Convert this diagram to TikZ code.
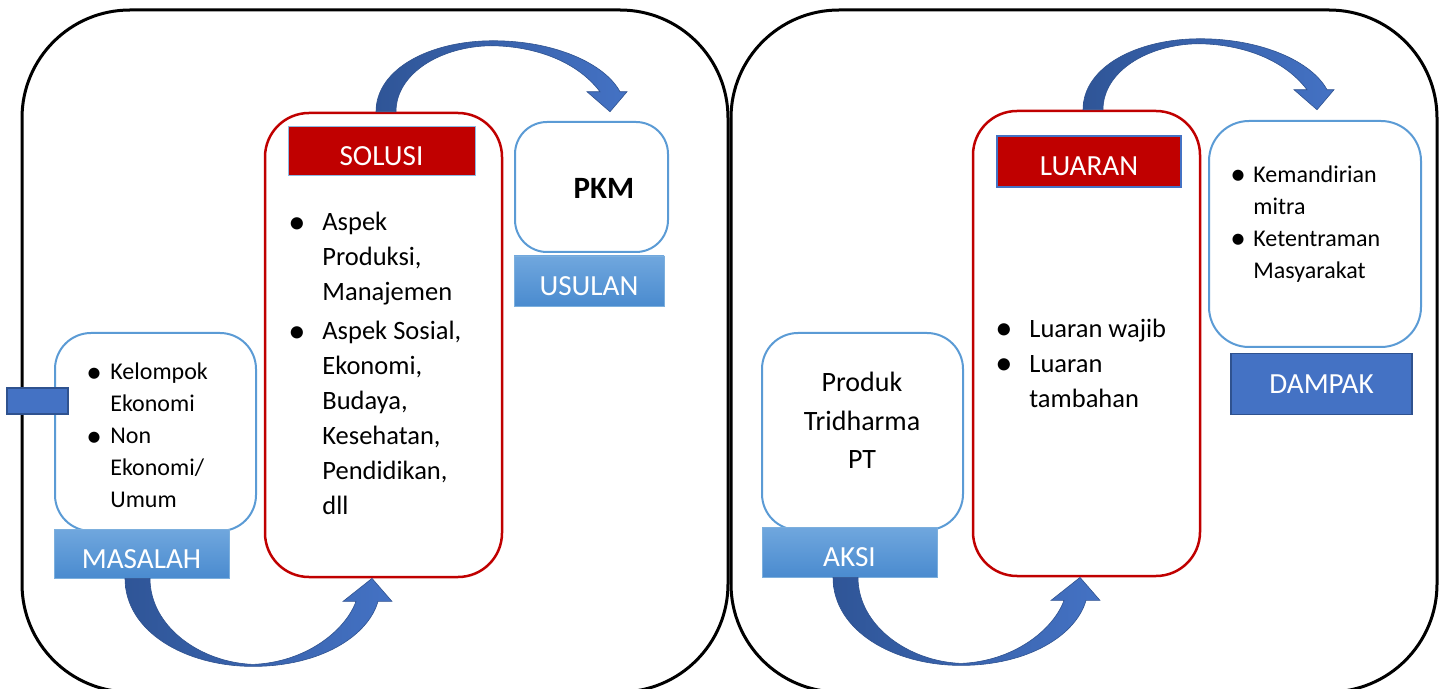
\documentclass[tikz,border=0pt]{standalone}
\usepackage{fontspec}
\setmainfont{Carlito}
\usetikzlibrary{positioning,calc}
\definecolor{redbox}{HTML}{C00000}
\definecolor{bluebox}{HTML}{5B9BD5}
\definecolor{darkblue}{HTML}{2F528F}
\definecolor{midblue}{HTML}{4472C4}
\definecolor{arrowdark}{HTML}{2F5597}
\definecolor{lbltop}{HTML}{70A7DE}
\definecolor{lblbot}{HTML}{4A8BCF}
\tikzset{
  frame/.style={draw=black, line width=1.5pt, rounded corners=54pt, minimum width=353pt, minimum height=341pt},
  redpanel/.style={draw=redbox, line width=1.25pt, rounded corners=22pt, fill=white},
  bluepanel/.style={draw=bluebox, line width=1pt, rounded corners=18pt, fill=white},
  gradlbl/.style={draw=bluebox!80, line width=0.4pt, top color=lbltop, bottom color=lblbot, text=white, inner sep=0pt, font=\fontsize{14.6}{16}\selectfont, text height=14.5pt, text depth=0pt},
  redlbl/.style={fill=redbox, draw=bluebox!70, line width=0.5pt, text=white, inner sep=0pt, font=\fontsize{14.6}{16}\selectfont, text height=14.5pt, text depth=0pt},
  bluelbl/.style={fill=midblue, draw=darkblue, line width=0.75pt, text=white, inner sep=0pt, font=\fontsize{14.6}{16}\selectfont},
  bullets/.style={align=left, anchor=west, inner sep=0pt},
  curvearrow/.style={left color=arrowdark, right color=midblue, draw=darkblue, line width=0.3pt}
}
\newcommand{\bul}[1]{\makebox[#1][l]{\raisebox{-0.1em}{\scalebox{1.3}{\textbullet}}}}
\newcommand{\ind}[1]{\makebox[#1]{}}
% curved block arrows, drawn from their start point
\newcommand{\toparrow}[1]{\path[curvearrow, shift={(#1)}] (0,0) .. controls (0,-43) and (54,-71) .. (117,-71)
  .. controls (179,-71) and (229,-48) .. (244,-20) -- (251,-20) -- (234,0) -- (211,-20) -- (224,-20)
  .. controls (199,-53) and (154,-66) .. (114,-66) .. controls (64,-65) and (20,-38) .. (20,0) -- cycle;}
\newcommand{\bottomarrow}[1]{\path[curvearrow, shift={(#1)}] (0,0) .. controls (0,53) and (60,88) .. (128,88)
  .. controls (195,88) and (243,58) .. (253,23) -- (267,23) -- (247,0) -- (218,23) -- (231,23)
  .. controls (220,53) and (180,84) .. (128,86) .. controls (75,84) and (25,48) .. (25,0) -- cycle;}

\begin{document}
\begin{tikzpicture}[x=0.5pt, y=-0.5pt]
  \useasboundingbox (0,0) rectangle (1445,689);

  \node (leftframe)  [frame] at (375,351) {};
  \node (rightframe) [frame] at (1084,351) {};

  % left half
  \node (masalah) [bluepanel, minimum width=100.5pt, minimum height=99pt] at (155.5,432) {};
  \node (masalahlbl) [gradlbl, minimum width=87.5pt, minimum height=24.5pt] at (141.5,553.5) {MASALAH};
  \node (tab) [bluelbl, minimum width=30.5pt, minimum height=13pt] at (37.5,401) {};
  \node (masalahtext) [bullets, font=\fontsize{12}{16}\selectfont] at (86,435.5)
    {\bul{12pt}Kelompok\\ \ind{12pt}Ekonomi\\ \bul{12pt}Non\\ \ind{12pt}Ekonomi/\\ \ind{12pt}Umum};

  \node (solusi) [redpanel, minimum width=118.5pt, minimum height=232pt] at (383.5,345) {};
  \node (solusilbl) [redlbl, minimum width=93.5pt, minimum height=24.5pt] at (381.5,151.5) {SOLUSI};
  \node (solusitext) [bullets, font=\fontsize{13.25}{17.5}\selectfont] at (288,363.5)
    {\bul{17pt}Aspek\\ \ind{17pt}Produksi,\\ \ind{17pt}Manajemen\\[2pt]
     \bul{17pt}Aspek Sosial,\\ \ind{17pt}Ekonomi,\\ \ind{17pt}Budaya,\\
     \ind{17pt}Kesehatan,\\ \ind{17pt}Pendidikan,\\ \ind{17pt}dll};

  \node (pkm) [bluepanel, rounded corners=16pt, minimum width=76.5pt, minimum height=65pt] at (591.5,187) {};
  \node (pkmtext) [font=\fontsize{15.5}{18}\selectfont\bfseries] at (604,188) {PKM};
  \node (usulan) [gradlbl, minimum width=75pt, minimum height=25pt, below=1.3pt of pkm, xshift=-1.25pt] {USULAN};

  % right half
  \node (produk) [bluepanel, minimum width=100.5pt, minimum height=98.5pt] at (862.5,431.5) {};
  \node (produktext) [align=center, inner sep=0pt, font=\fontsize{14}{19.25}\selectfont] at (862,420.5)
    {Produk\\ Tridharma\\ PT};
  \node (aksi) [gradlbl, minimum width=87.5pt, minimum height=25pt] at (849.5,552) {AKSI};

  \node (luaran) [redpanel, minimum width=113.5pt, minimum height=232.5pt] at (1086.5,343.5) {};
  \node (luaranlbl) [redlbl, draw=midblue, line width=0.75pt, minimum width=92pt, minimum height=25.5pt] at (1089,161.5) {LUARAN};
  \node (luarantext) [bullets, font=\fontsize{13.25}{17.5}\selectfont] at (995,363)
    {\bul{17pt}Luaran wajib\\ \bul{17pt}Luaran\\ \ind{17pt}tambahan};

  \node (dampak) [bluepanel, rounded corners=20pt, minimum width=106pt, minimum height=113pt] at (1315,234) {};
  \node (dampaktext) [bullets, font=\fontsize{12}{16}\selectfont] at (1230,224)
    {\bul{11.5pt}Kemandirian\\ \ind{11.5pt}mitra\\ \bul{11.5pt}Ketentraman\\ \ind{11.5pt}Masyarakat};
  \node (dampaklbl) [bluelbl, minimum width=90.5pt, minimum height=30.5pt, below=2.5pt of dampak, xshift=3.25pt] {DAMPAK};

  % arrows
  \coordinate (a1) at ($(masalahlbl.south)+(-16.5,0)$);
  \coordinate (a2) at ($(solusi.north)+(-7.5,0)$);
  \coordinate (a3) at ($(aksi.south)+(-16.5,0)$);
  \coordinate (a4) at ($(luaran.north)+(-3.5,0)$);
  \bottomarrow{a1}
  \toparrow{a2}
  \bottomarrow{a3}
  \toparrow{a4}
\end{tikzpicture}
\end{document}
